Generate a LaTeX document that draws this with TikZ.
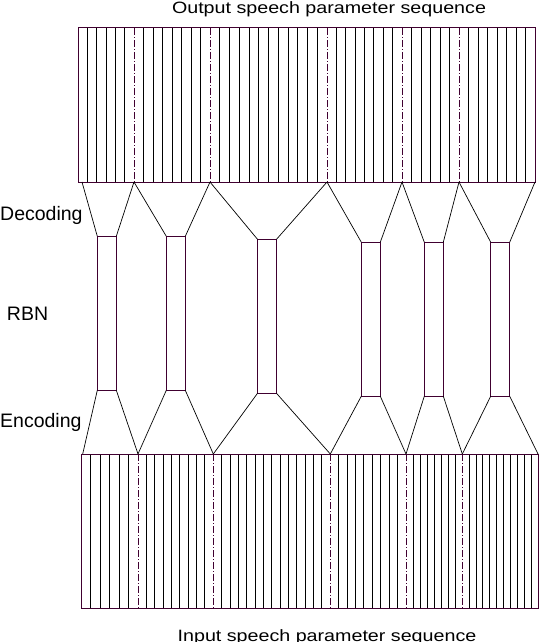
\documentclass[tikz,border=0pt]{standalone}
\usepackage{fontspec}
\setmainfont{Liberation Sans}
\newfontfamily\widesans[FakeStretch=1.2]{Liberation Sans}
\usetikzlibrary{positioning}
\definecolor{seqframe}{RGB}{64,0,48}

\begin{document}
\begin{tikzpicture}[x=1pt,y=-1pt,
    rbn/.style={draw=seqframe,line width=1pt,minimum width=19pt,minimum height=154pt,inner sep=0pt,outer sep=0pt},
    frameline/.style={line width=1pt,black},
    divider/.style={line width=1pt,seqframe,dash pattern=on 7pt off 2pt on 1pt off 2pt},
    link/.style={line width=0.7pt,black},
    lbl/.style={font=\fontsize{19.5}{20}\selectfont,inner sep=0pt},
    seqtitle/.style={font=\widesans\fontsize{16.4}{18}\selectfont,inner sep=0pt,anchor=base}]
    \useasboundingbox (0,0) rectangle (540,642);
    % output sequence (top)
    \foreach \a/\b/\n in {78/134/6, 134/210/8, 210/327/12, 327/402/8, 402/459/6, 459/535/8}{
      \pgfmathtruncatemacro\m{\n-1}
      \foreach \i in {1,...,\m}
        \draw[frameline] ({\a+(\b-\a)*\i/\n},28) -- ({\a+(\b-\a)*\i/\n},182);
    }
    \foreach \x in {134,210,327,402,459}
      \draw[divider] (\x,28) -- (\x,182);
    \draw[seqframe,line width=1pt] (78,28) rectangle (535,182);
    % input sequence (bottom)
    \foreach \a/\b/\n in {81/138/6, 138/213.3/9, 213.3/330.3/14, 330.3/406/9, 406/462.3/8, 462.3/538/11}{
      \pgfmathtruncatemacro\m{\n-1}
      \foreach \i in {1,...,\m}
        \draw[frameline] ({\a+(\b-\a)*\i/\n},454) -- ({\a+(\b-\a)*\i/\n},608);
    }
    \foreach \x in {138,213.3,330.3,406,462.3}
      \draw[divider] (\x,454) -- (\x,608);
    \draw[seqframe,line width=1pt] (81,454) rectangle (538,608);
    % RBN boxes
    \node[rbn] (rbn1) at (106.8,313.3) {};
    \node[rbn] (rbn2) at (175.8,313.3) {};
    \node[rbn] (rbn3) at (267,316.3) {};
    \node[rbn] (rbn4) at (370.8,319.2) {};
    \node[rbn] (rbn5) at (433.8,319.2) {};
    \node[rbn] (rbn6) at (500.2,319.2) {};
    \foreach \x [count=\i from 0] in {82,134,210,327,402,459,535}
      \coordinate (t\i) at (\x,182);
    \foreach \x [count=\i from 0] in {82.7,138,213.3,330.3,406,462.3,538}
      \coordinate (b\i) at (\x,454);
    \foreach \i [evaluate=\i as \j using int(\i-1)] in {1,...,6}{
      \draw[link] (t\j) -- (rbn\i.north west);
      \draw[link] (t\i) -- (rbn\i.north east);
      \draw[link] (b\j) -- (rbn\i.south west);
      \draw[link] (b\i) -- (rbn\i.south east);
    }
    % labels
    \node[lbl,anchor=base west] (dec) at (0,220) {Decoding};
    \node[lbl,left=49pt of rbn1] (rbnlbl) {RBN};
    \node[lbl,anchor=base west] (enc) at (0,427.3) {Encoding};
    \node[seqtitle] (outtitle) at (329,13.5) {Output speech parameter sequence};
    \node[seqtitle] (intitle) at (327,641.5) {Input speech parameter sequence};
\end{tikzpicture}
\end{document}
